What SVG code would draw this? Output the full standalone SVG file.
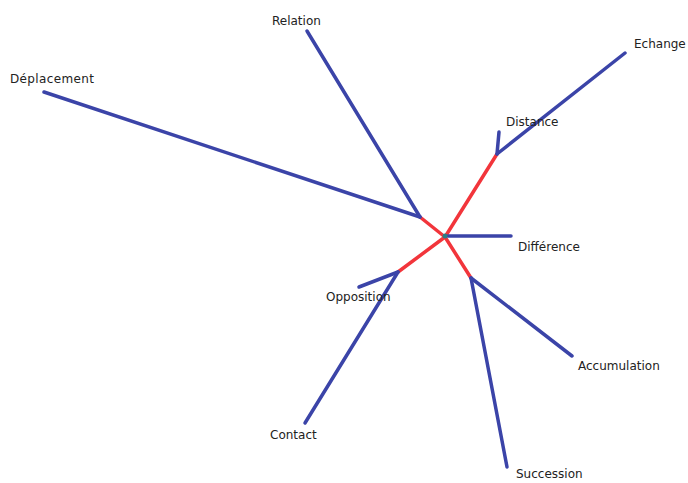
<svg xmlns="http://www.w3.org/2000/svg" width="688" height="483" viewBox="0 0 688 483">
<style>
.b{stroke:#3b44a8;stroke-width:3.5;stroke-linecap:round;fill:none}
.r{stroke:#f2353b;stroke-width:3.5;stroke-linecap:round;fill:none}
text{font-family:"DejaVu Sans","Liberation Sans",sans-serif;font-size:12px;fill:#222}
</style>
<rect width="688" height="483" fill="#fff"/>
<g id="connectors">
<line class="r" x1="445" y1="237" x2="497" y2="154"/>
<line class="r" x1="445" y1="237" x2="420" y2="217"/>
<line class="r" x1="445" y1="237" x2="471" y2="278"/>
<line class="r" x1="445" y1="237" x2="398" y2="272"/>
<line class="b" x1="448" y1="236" x2="511" y2="236"/>
<line class="b" x1="497" y1="154" x2="625" y2="53"/>
<line class="b" x1="497" y1="154" x2="499" y2="132"/>
<line class="b" x1="420" y1="217" x2="307" y2="31"/>
<line class="b" x1="420" y1="217" x2="44" y2="92"/>
<line class="b" x1="398" y1="272" x2="359" y2="287"/>
<line class="b" x1="398" y1="272" x2="305" y2="423"/>
<line class="b" x1="471" y1="278" x2="572" y2="356"/>
<line class="b" x1="471" y1="278" x2="507" y2="467"/>
<circle cx="445" cy="236" r="2.5" fill="#2b7c84"/>
</g>
<g id="relation"><text x="272" y="25">Relation</text></g>
<g id="deplacement"><text x="10" y="83" textLength="84">Déplacement</text></g>
<g id="echange"><text x="634" y="48">Echange</text></g>
<g id="distance"><text x="506" y="126">Distance</text></g>
<g id="difference"><text x="518" y="251">Différence</text></g>
<g id="opposition"><text x="326" y="301">Opposition</text></g>
<g id="contact"><text x="270" y="439">Contact</text></g>
<g id="accumulation"><text x="578" y="370">Accumulation</text></g>
<g id="succession"><text x="516" y="478">Succession</text></g>
</svg>
